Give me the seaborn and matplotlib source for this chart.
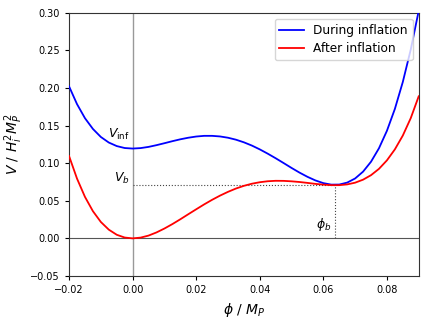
import numpy as np
import pandas as pd
import seaborn as sns
import matplotlib
matplotlib.use('Agg')
from matplotlib import pyplot as plt

# field values (phi / M_P) and potentials
phi = [-0.02, -0.0175, -0.015, -0.0125, -0.01, -0.0075, -0.005, -0.0025, 0.0,
       0.0025, 0.005, 0.0075, 0.01, 0.0125, 0.015, 0.0175, 0.02, 0.0225, 0.025,
       0.0275, 0.03, 0.0325, 0.035, 0.0375, 0.04, 0.0425, 0.045, 0.0475, 0.05,
       0.0525, 0.055, 0.0575, 0.06, 0.0625, 0.065, 0.0675, 0.07, 0.0725, 0.075,
       0.0775, 0.08, 0.0825, 0.085, 0.0875, 0.09]
v_during = [0.2022, 0.1786, 0.1599, 0.1456, 0.1349, 0.1275, 0.1228, 0.1202, 0.1195,
            0.1201, 0.1217, 0.1240, 0.1266, 0.1293, 0.1318, 0.1339, 0.1355, 0.1364, 0.1364,
            0.1356, 0.1339, 0.1313, 0.1278, 0.1235, 0.1184, 0.1127, 0.1066, 0.1002, 0.0937,
            0.0875, 0.0819, 0.0771, 0.0735, 0.0715, 0.0716, 0.0742, 0.0797, 0.0888, 0.1020,
            0.1199, 0.1431, 0.1722, 0.2081, 0.2513, 0.3027]
v_after = [0.1095, 0.0795, 0.0552, 0.0362, 0.0218, 0.0116, 0.0048, 0.0011, 0.0,
           0.0010, 0.0037, 0.0079, 0.0131, 0.0190, 0.0254, 0.0321, 0.0387, 0.0452, 0.0513,
           0.0569, 0.0619, 0.0663, 0.0699, 0.0727, 0.0747, 0.0760, 0.0766, 0.0765, 0.0759,
           0.0750, 0.0738, 0.0725, 0.0715, 0.0708, 0.0708, 0.0718, 0.0741, 0.0781, 0.0841,
           0.0925, 0.1038, 0.1184, 0.1368, 0.1600, 0.1890]

phi_b = 0.0637
v_b = 0.0707

df = pd.DataFrame({
    'phi': phi + phi,
    'V': v_during + v_after,
    'stage': ['During inflation'] * len(phi) + ['After inflation'] * len(phi),
})

fig = plt.figure(figsize=(4.29, 3.22), dpi=100)
ax = fig.add_axes([0.161, 0.143, 0.815, 0.817])

ax.axvline(0, color='gray', lw=1.0, alpha=0.8, zorder=1)
ax.axhline(0, color='#555555', lw=0.8, zorder=1)

sns.lineplot(data=df, x='phi', y='V', hue='stage',
             palette={'During inflation': 'blue', 'After inflation': 'red'},
             lw=1.3, ax=ax, zorder=3)

# dotted guides for the false vacuum
ax.plot([0, phi_b], [v_b, v_b], ls=':', color='#444444', lw=0.8, zorder=2)
ax.plot([phi_b, phi_b], [0, v_b], ls=':', color='#444444', lw=0.8, zorder=2)

ax.text(-0.0008, 0.138, r'$V_{\rm inf}$', ha='right', va='center', fontsize=9)
ax.text(-0.0008, 0.080, r'$V_b$', ha='right', va='center', fontsize=9)
ax.text(0.0624, 0.018, r'$\phi_b$', ha='right', va='center', fontsize=9)

ax.set_xlim(-0.02, 0.09)
ax.set_ylim(-0.05, 0.30)
ax.set_xticks([-0.02, 0.0, 0.02, 0.04, 0.06, 0.08])
ax.set_yticks([-0.05, 0.0, 0.05, 0.10, 0.15, 0.20, 0.25, 0.30])
ax.tick_params(labelsize=7, length=3, width=0.8)
ax.set_xlabel(r'$\phi\ /\ M_P$', fontsize=10, labelpad=4)
ax.set_ylabel(r'$V\ /\ H_i^2 M_P^2$', fontsize=10, labelpad=4)
for s in ax.spines.values():
    s.set_color('#333333')
    s.set_linewidth(0.8)

ax.legend(loc='upper right', fontsize=8.7, handlelength=2.0, framealpha=0.8,
          borderpad=0.4, labelspacing=0.45)

plt.savefig('out.png', dpi=100)
